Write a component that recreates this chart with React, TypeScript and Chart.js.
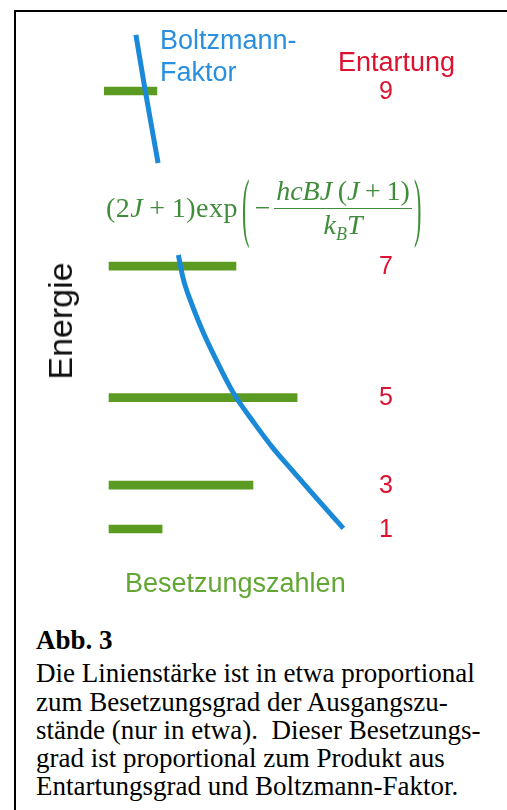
import React, { useEffect, useRef } from "react";
import { Chart, registerables } from "chart.js";

Chart.register(...registerables);

// Rotational levels: energy in units of hcB, i.e. J(J+1)
const levelEnergy = [0, 2, 6, 12, 20];
const degeneracy = [1, 3, 5, 7, 9];
// Population bars (arbitrary units; the Boltzmann factor at E = 0 equals 1)
const populationStart = [0, 0, 0, 0, -0.02];
const populationEnd = [0.225, 0.61, 0.797, 0.538, 0.203];

// Boltzmann factor, upper piece (above the formula) and lower piece
const boltzmannUpperX = [0.114, 0.153, 0.208];
const boltzmannUpperE = [22.56, 20.05, 16.71];
const boltzmannLowerX = [0.294, 0.314, 0.352, 0.398, 0.458, 0.508, 0.541, 0.611, 0.696, 0.781, 0.88, 0.993];
const boltzmannLowerE = [12.51, 11.45, 10.23, 9.01, 7.64, 6.58, 5.97, 4.9, 3.68, 2.62, 1.4, 0.03];

const captionTitle = "Abb. 3";
const captionLines = [
  "Die Linienstärke ist in etwa proportional",
  "zum Besetzungsgrad der Ausgangszu-",
  "stände (nur in etwa).\u00a0 Dieser Besetzungs-",
  "grad ist proportional zum Produkt aus",
  "Entartungsgrad und Boltzmann-Faktor.",
];

const GREEN = "#5b9b21";
const BLUE = "#1a8ad8";
const BLUE_TEXT = "#2a8fde";
const RED = "#dc1230";
const FORMULA_GREEN = "#3f8c3a";
const LABEL_GREEN = "#62a633";
const SANS = '"Liberation Sans", Arial, sans-serif';
const SERIF = '"Liberation Serif", "Times New Roman", serif';

const LABEL_X = 1.174;

const degeneracyLabels = {
  id: "degeneracyLabels",
  afterDatasetsDraw(chart: any) {
    const { ctx, scales } = chart;
    ctx.save();
    ctx.font = `25px ${SANS}`;
    ctx.fillStyle = RED;
    ctx.textAlign = "center";
    ctx.textBaseline = "alphabetic";
    const x = scales.x.getPixelForValue(LABEL_X);
    levelEnergy.forEach((e, i) => {
      ctx.fillText(String(degeneracy[i]), x, scales.y.getPixelForValue(e) + 7.5);
    });
    ctx.restore();
  },
};

function SansLabel(props: { x: number; baseline: number; size: number; color: string; children: React.ReactNode }) {
  const { x, baseline, size, color, children } = props;
  return (
    <div
      style={{
        position: "absolute",
        left: x,
        top: baseline - 0.8465 * size,
        fontFamily: SANS,
        fontSize: size,
        lineHeight: `${size}px`,
        color,
        whiteSpace: "nowrap",
      }}
    >
      {children}
    </div>
  );
}

function Formula() {
  const big: React.CSSProperties = {
    display: "inline-block",
    transform: "scale(0.8, 2.7)",
    fontWeight: 300,
  };
  return (
    <div
      style={{
        position: "absolute",
        left: 106,
        top: 166,
        height: 84,
        display: "flex",
        alignItems: "center",
        fontFamily: SERIF,
        fontSize: 28,
        letterSpacing: 0.5,
        color: FORMULA_GREEN,
        whiteSpace: "nowrap",
        lineHeight: 1,
      }}
    >
      <span>
        (2<i>J</i>&thinsp;+&thinsp;1)exp
      </span>
      <span style={{ ...big, margin: "0 4px 0 3px" }}>(</span>
      <span style={{ marginRight: 3 }}>−</span>
      <span style={{ display: "inline-flex", flexDirection: "column", alignItems: "center", letterSpacing: 0 }}>
        <span style={{ padding: "0 2px 3px" }}>
          <i>hcBJ</i>&thinsp;(<i>J</i>&thinsp;+&thinsp;1)
        </span>
        <span style={{ borderTop: `1.5px solid ${FORMULA_GREEN}`, alignSelf: "stretch" }} />
        <span style={{ paddingTop: 2 }}>
          <i>k</i>
          <i style={{ fontSize: 18, position: "relative", top: 6 }}>B</i>
          <i>T</i>
        </span>
      </span>
      <span style={{ ...big, marginLeft: 1 }}>)</span>
    </div>
  );
}

export default function App() {
  const canvasRef = useRef<HTMLCanvasElement | null>(null);

  useEffect(() => {
    const canvas = canvasRef.current;
    if (!canvas) return;

    const bars = levelEnergy.map((e, i) => ({ x: [populationStart[i], populationEnd[i]], y: e }));
    const curve = [
      ...boltzmannUpperX.map((x, i) => ({ x, y: boltzmannUpperE[i] })),
      { x: null, y: null },
      ...boltzmannLowerX.map((x, i) => ({ x, y: boltzmannLowerE[i] })),
    ];

    const chart = new Chart(canvas, {
      type: "bar",
      data: {
        datasets: [
          {
            type: "line",
            label: "Boltzmann-Faktor",
            data: curve as any,
            borderColor: BLUE,
            borderWidth: 5,
            pointRadius: 0,
            cubicInterpolationMode: "monotone",
            spanGaps: false,
            clip: false,
            order: 0,
          } as any,
          {
            type: "bar",
            label: "Besetzungszahlen",
            indexAxis: "y",
            data: bars as any,
            backgroundColor: GREEN,
            borderWidth: 0,
            barThickness: 8,
            clip: false,
            order: 1,
          } as any,
        ],
      },
      options: {
        responsive: false,
        animation: false,
        devicePixelRatio: 1,
        layout: { padding: { left: 14.6, right: 67.6, top: 3.4, bottom: 47.2 } },
        plugins: { legend: { display: false }, tooltip: { enabled: false } },
        scales: {
          x: { type: "linear", min: -0.4, max: 1.4, offset: false, display: false },
          y: { type: "linear", min: -2, max: 24, offset: false, display: false },
        },
      },
      plugins: [degeneracyLabels],
    });

    return () => chart.destroy();
  }, []);

  return (
    <div
      style={{
        position: "absolute",
        left: 0,
        top: 0,
        width: 507,
        height: 810,
        background: "#fff",
        overflow: "hidden",
      }}
    >
      <div
        style={{
          position: "absolute",
          left: 14,
          top: 10,
          width: 700,
          height: 900,
          borderTop: "2px solid #000",
          borderLeft: "2px solid #000",
        }}
      />
      <canvas ref={canvasRef} width={507} height={620} style={{ position: "absolute", left: 0, top: 0 }} />

      <SansLabel x={160} baseline={50} size={27} color={BLUE_TEXT}>Boltzmann-</SansLabel>
      <SansLabel x={160} baseline={82} size={27} color={BLUE_TEXT}>Faktor</SansLabel>
      <SansLabel x={338} baseline={72} size={27} color={RED}>Entartung</SansLabel>
      <SansLabel x={125} baseline={593} size={27} color={LABEL_GREEN}>Besetzungszahlen</SansLabel>

      <div
        style={{
          position: "absolute",
          left: 59.6,
          top: 321,
          transform: "translate(-50%, -50%) rotate(-90deg)",
          fontFamily: SANS,
          fontSize: 34,
          lineHeight: "34px",
          color: "#111",
          whiteSpace: "nowrap",
        }}
      >
        Energie
      </div>

      <Formula />

      <div
        style={{
          position: "absolute",
          left: 36,
          top: 626,
          fontFamily: SERIF,
          fontSize: 27,
          lineHeight: "28.3px",
          color: "#000",
          whiteSpace: "nowrap",
        }}
      >
        <div style={{ fontWeight: "bold", marginBottom: 5 }}>{captionTitle}</div>
        {captionLines.map((line) => (
          <div key={line}>{line}</div>
        ))}
      </div>
    </div>
  );
}
